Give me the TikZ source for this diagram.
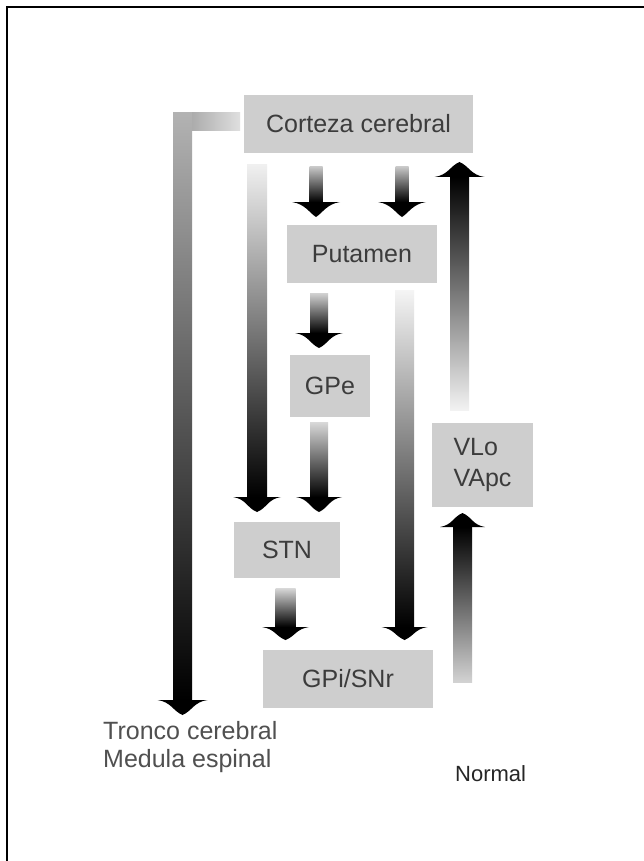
\documentclass[tikz,border=0pt]{standalone}
\usepackage{fontspec}
\setmainfont{Liberation Sans}
\definecolor{boxgray}{RGB}{206,206,206}
\definecolor{boxtext}{RGB}{60,60,60}
\definecolor{notegray}{RGB}{80,80,80}

% Shaded block arrow pointing down:
% #1 x centre, #2 top of shaft, #3 base of head, #4 tip, #5 shaft half width, #6 head half width, #7 colour at the tail
\newcommand\blockdown[7]{%
  \shade[top color=#7, bottom color=black] (#1-#5,#2) rectangle (#1+#5,#3);
  \fill[black] (#1-#6,#3) -- (#1+#6,#3)
    .. controls (#1+0.45*#6,#3+2) and (#1+#5,#4-4) .. (#1,#4)
    .. controls (#1-#5,#4-4) and (#1-0.45*#6,#3+2) .. cycle;}
% Shaded block arrow pointing up:
% #1 x centre, #2 bottom of shaft, #3 base of head, #4 tip, #5 shaft half width, #6 head half width, #7 colour at the tail
\newcommand\blockup[7]{%
  \shade[top color=black, bottom color=#7] (#1-#5,#3) rectangle (#1+#5,#2);
  \fill[black] (#1-#6,#3) -- (#1+#6,#3)
    .. controls (#1+0.45*#6,#3-2) and (#1+#5,#4+4) .. (#1,#4)
    .. controls (#1-#5,#4+4) and (#1-0.45*#6,#3-2) .. cycle;}

\begin{document}
\begin{tikzpicture}[x=1pt,y=-1pt,
  area/.style={fill=boxgray, text=boxtext, inner sep=0pt,
    font=\fontsize{25}{31}\selectfont},
  note/.style={anchor=west, inner sep=0pt, text=notegray,
    font=\fontsize{25}{30}\selectfont}]
\useasboundingbox (0,0) rectangle (644,861);
\fill[white] (0,0) rectangle (644,861);

% frame
\draw[line width=2pt] (7,861) -- (7,7) -- (644,7);

% nuclei
\node[area, minimum width=229, minimum height=58] (cortex) at (358.5,124) {Corteza cerebral};
\node[area, minimum width=150, minimum height=58] (putamen) at (362,254) {Putamen};
\node[area, minimum width=80, minimum height=62] (gpe) at (330,386) {GPe};
\node[area, minimum width=106, minimum height=56] (stn) at (287,550) {STN};
\node[area, minimum width=170, minimum height=58] (gpi) at (348,679) {GPi/SNr};
\node[area, minimum width=101, minimum height=84, align=left] (vlo) at (482.5,465) {VLo\\VApc};

% output to brain stem: horizontal part then long descending shaft
\shade[left color=gray!65, right color=gray!25] (192,113) rectangle (240,131);
\blockdown{182.5}{113}{700}{715}{9.5}{25}{gray!60}

% cortex -> STN (hyperdirect)
\blockdown{257}{165}{497}{512}{10}{24}{gray!12}
% cortex -> putamen
\blockdown{316}{167}{202}{217}{6.5}{24}{gray!45}
\blockdown{402}{167}{202}{217}{6.5}{24}{gray!45}
% putamen -> GPe
\blockdown{319}{293}{333}{348}{9}{24}{gray!35}
% GPe -> STN
\blockdown{319}{422}{497}{512}{9}{23}{gray!30}
% STN -> GPi/SNr
\blockdown{285.5}{588}{627}{640}{10}{23.5}{gray!30}
% putamen -> GPi/SNr (direct)
\blockdown{404.5}{290}{627}{640}{9.5}{23}{gray!8}
% thalamus -> cortex
\blockup{459.5}{410}{177}{162}{9.5}{25}{gray!10}
% GPi/SNr -> thalamus
\blockup{462.5}{682}{527}{513}{9.5}{22.5}{gray!35}

% labels
\node[note] (stem) at (103,731) {Tronco cerebral};
\node[note] (cord) at (103,761) {Medula espinal};
\node[anchor=west, inner sep=0pt, text=black!85, font=\fontsize{22}{26}\selectfont] (state) at (455,774) {Normal};
\end{tikzpicture}
\end{document}
